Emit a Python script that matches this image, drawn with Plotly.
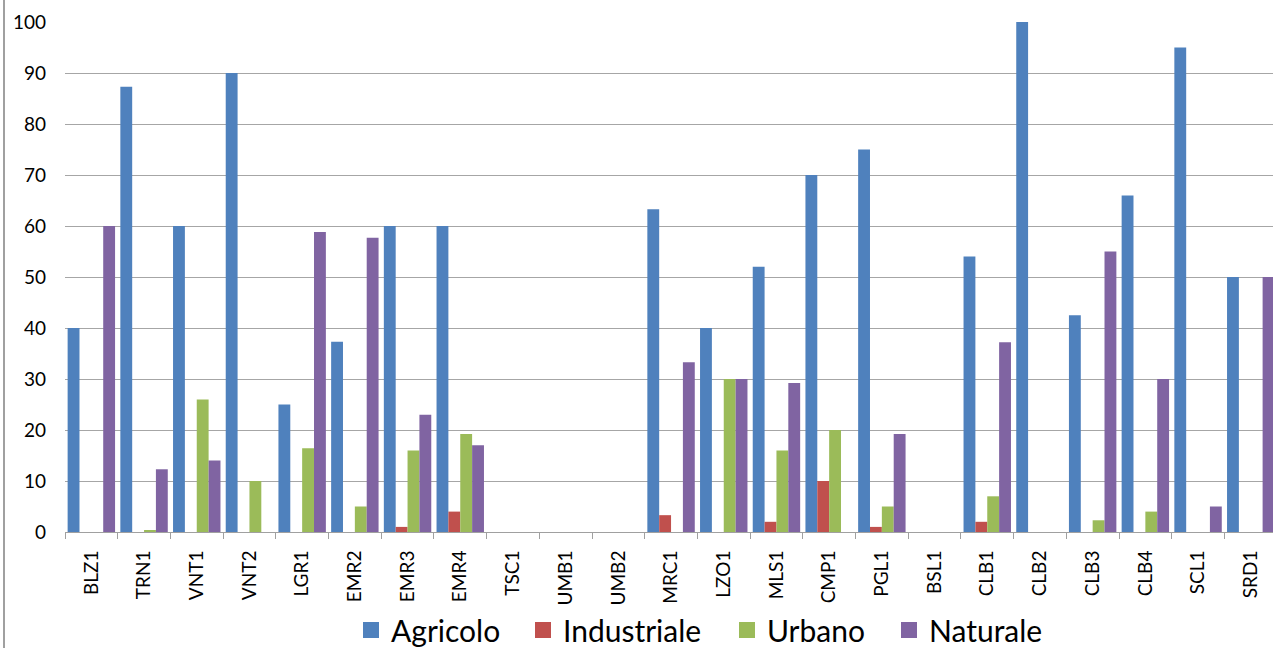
import plotly.graph_objects as go

# Land-use shares (%) per monitoring station
stations = ["BLZ1", "TRN1", "VNT1", "VNT2", "LGR1", "EMR2", "EMR3", "EMR4",
            "TSC1", "UMB1", "UMB2", "MRC1", "LZO1", "MLS1", "CMP1", "PGL1",
            "BSL1", "CLB1", "CLB2", "CLB3", "CLB4", "SCL1", "SRD1"]

agricolo    = [40, 87.3, 60, 90, 25, 37.3, 60, 60, 0, 0, 0, 63.3, 40, 52, 70, 75,
               0, 54, 100, 42.5, 66, 95, 50]
industriale = [0, 0, 0, 0, 0, 0, 1, 4, 0, 0, 0, 3.3, 0, 2, 10, 1,
               0, 2, 0, 0, 0, 0, 0]
urbano      = [0, 0.3, 26, 10, 16.4, 5, 16, 19.2, 0, 0, 0, 0, 30, 16, 20, 5,
               0, 7, 0, 2.3, 4, 0, 0]
naturale    = [60, 12.3, 14, 0, 58.8, 57.7, 23, 17, 0, 0, 0, 33.3, 30, 29.2, 0, 19.2,
               0, 37.2, 0, 55, 30, 5, 50]

y_ticks = list(range(0, 101, 10))

series = [
    ("Agricolo", agricolo, "#4F81BD"),
    ("Industriale", industriale, "#C0504D"),
    ("Urbano", urbano, "#9BBB59"),
    ("Naturale", naturale, "#8064A2"),
]

W, H = 1273, 648
M_L, M_R, M_T, M_B = 65, 0, 22, 116
plot_w = W - M_L - M_R
plot_h = H - M_T - M_B
cat_px = 52.7  # width of one category slot in pixels

# left edge (px) of each legend entry along the bottom row
legend_left_px = [351, 523, 727, 889]
legend_mid_px = 630

fig = go.Figure()
for name, vals, color in series:
    fig.add_trace(go.Bar(
        x=stations, y=vals, name=name, marker_color=color,
        marker_line_width=0, showlegend=False,
    ))

legend_ids = ["legend", "legend2", "legend3", "legend4"]
# legend swatches (larger squares than the default bar icon), one legend per entry
for (name, vals, color), lid in zip(series, legend_ids):
    fig.add_trace(go.Scatter(
        x=[None], y=[None], mode="markers", name=name,
        marker=dict(symbol="square", size=16, color=color),
        showlegend=True, legend=lid,
    ))

def px_to_paper_x(px):
    return (px - M_L) / plot_w

def px_to_paper_y(py):
    return (H - M_B - py) / plot_h

legend_style = dict(
    orientation="h",
    xref="container", yref="container",
    yanchor="middle", xanchor="left",
    font=dict(family="Lato, sans-serif", size=30),
    bgcolor="rgba(0,0,0,0)",
    itemclick=False, itemdoubleclick=False,
)
legend_layout = {}
for lid, lx in zip(legend_ids, legend_left_px):
    legend_layout[lid] = dict(legend_style, x=lx / W, y=1 - legend_mid_px / H)

fig.update_layout(
    width=W, height=H,
    margin=dict(l=M_L, r=M_R, t=M_T, b=M_B, pad=0, autoexpand=False),
    paper_bgcolor="white", plot_bgcolor="white",
    barmode="group", bargap=0.1, bargroupgap=0,
    font=dict(family="Lato, 'Open Sans', sans-serif", color="#000000"),
    xaxis=dict(
        type="category",
        range=[-0.5, -0.5 + plot_w / cat_px],
        showline=True, linecolor="#A0A0A0", linewidth=1,
        ticks="outside", ticklen=6, tickcolor="#A0A0A0", tickwidth=1,
        tickson="boundaries",
        tickangle=-90,
        tickfont=dict(family="'Liberation Sans Narrow', Lato, sans-serif", size=19),
        ticklabelstandoff=10,
        showgrid=False, zeroline=False, automargin=False,
    ),
    yaxis=dict(
        range=[0, 100],
        tickvals=y_ticks,
        showgrid=True, gridcolor="#A6A6A6", gridwidth=1,
        showline=False, zeroline=False, ticks="",
        tickfont=dict(family="Lato, sans-serif", size=19),
        ticklabelstandoff=18, automargin=False,
    ),
    shapes=[dict(
        type="line", xref="paper", yref="paper",
        x0=px_to_paper_x(4), x1=px_to_paper_x(4),
        y0=px_to_paper_y(0), y1=px_to_paper_y(H),
        line=dict(color="#A0A0A0", width=2),
    )],
    **legend_layout,
)

fig.write_html("out.html")
